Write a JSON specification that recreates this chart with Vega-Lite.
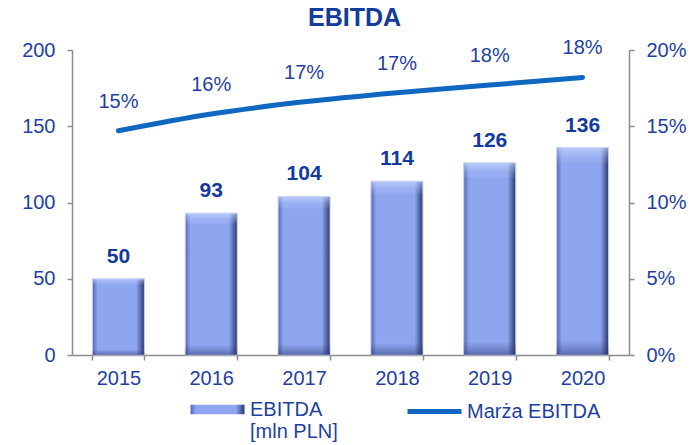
{
  "$schema": "https://vega.github.io/schema/vega-lite/v6.json",
  "width": 557,
  "height": 305,
  "autosize": {"type": "none"},
  "padding": {"left": 72, "top": 50, "right": 63, "bottom": 90},
  "title": {"text": "EBITDA", "fontSize": 25, "fontWeight": "bold", "color": "#123b9c", "font": "Liberation Sans", "offset": 7, "anchor": "middle", "dx": 4},
  "config": {
    "view": {"stroke": null},
    "font": "Liberation Sans",
    "axis": {"grid": false, "domainColor": "#8c8c8c", "tickColor": "#8c8c8c", "domainWidth": 1.5, "tickWidth": 1.5, "labelColor": "#1f3f9f", "labelFontSize": 20, "labelFont": "Liberation Sans", "tickSize": 5}
  },
  "data": {"values": [
    {"year": "2015", "ebitda": 50, "margin": 0.147},
    {"year": "2016", "ebitda": 93, "margin": 0.158},
    {"year": "2017", "ebitda": 104, "margin": 0.166},
    {"year": "2018", "ebitda": 114, "margin": 0.172},
    {"year": "2019", "ebitda": 126, "margin": 0.177},
    {"year": "2020", "ebitda": 136, "margin": 0.182}
  ]},
  "encoding": {
    "x": {"field": "year", "type": "ordinal", "scale": {"paddingInner": 0.44, "paddingOuter": 0.22},
      "axis": {"title": null, "labelAngle": 0, "tickBand": "extent", "labelPadding": 8}}
  },
  "layer": [
    {
      "encoding": {"y": {"field": "ebitda", "type": "quantitative", "scale": {"domain": [0, 200]},
        "axis": {"title": null, "values": [0, 50, 100, 150, 200], "labelPadding": 12, "orient": "left"}}},
      "layer": [
        {"mark": {"type": "bar", "stroke": "#c3cff5", "strokeWidth": 1,
          "fill": {"gradient": "linear", "x1": 0, "x2": 1, "y1": 0, "y2": 0,
            "stops": [{"offset": 0, "color": "#5266b4"}, {"offset": 0.1, "color": "#8ea5f0"}, {"offset": 0.84, "color": "#8ea5f0"}, {"offset": 1, "color": "#2c376e"}]}},
          "encoding": {"opacity": {"datum": "EBITDA [mln PLN]", "type": "nominal", "scale": {"range": [1]},
            "legend": {"orient": "none", "legendX": 118, "legendY": 332, "title": null, "symbolType": "M-1,-0.18H1V0.18H-1Z", "symbolSize": 2916, "symbolFillColor": "#7f95e0", "symbolStrokeColor": "#3a4680", "symbolStrokeWidth": 1, "symbolOpacity": 1,
              "labelFontSize": 20, "labelColor": "#1f3f9f", "labelFont": "Liberation Sans", "labelOffset": 5,
              "labelExpr": "datum.label == 'EBITDA [mln PLN]' ? ['EBITDA', '[mln PLN]'] : datum.label", "labelBaseline": "middle"}}}},
        {"mark": {"type": "bar", "strokeWidth": 0,
          "fill": {"gradient": "linear", "x1": 0, "x2": 0, "y1": 0, "y2": 1,
            "stops": [{"offset": 0, "color": "rgba(220,232,255,0.55)"}, {"offset": 0.05, "color": "rgba(200,215,255,0.2)"}, {"offset": 0.08, "color": "rgba(255,255,255,0)"}, {"offset": 0.93, "color": "rgba(40,50,110,0)"}, {"offset": 1, "color": "rgba(30,40,95,0.45)"}]}}},
        {"mark": {"type": "text", "fontSize": 21, "fontWeight": "bold", "color": "#123b9c", "baseline": "middle", "dy": -22},
          "encoding": {"text": {"field": "ebitda", "type": "quantitative"}}}
      ]
    },
    {
      "encoding": {"y": {"field": "margin", "type": "quantitative", "scale": {"domain": [0, 0.2]},
        "axis": {"title": null, "values": [0, 0.05, 0.1, 0.15, 0.2], "format": ".0%", "labelPadding": 12, "orient": "right"}}},
      "layer": [
        {"mark": {"type": "line", "strokeWidth": 5, "interpolate": "monotone", "strokeCap": "round"},
          "encoding": {"stroke": {"datum": "Marża EBITDA", "scale": {"range": ["#0f67c0"]},
            "legend": {"orient": "none", "legendX": 333, "legendY": 332, "title": null, "symbolType": "stroke", "symbolSize": 2916, "symbolStrokeWidth": 5,
              "labelFontSize": 20, "labelColor": "#1f3f9f", "labelFont": "Liberation Sans", "labelOffset": 3}}}},
        {"mark": {"type": "text", "fontSize": 20, "color": "#1f3f9f", "baseline": "middle", "dy": -29},
          "encoding": {"text": {"field": "margin", "type": "quantitative", "format": ".0%"}}}
      ]
    }
  ],
  "resolve": {"scale": {"y": "independent"}}
}
